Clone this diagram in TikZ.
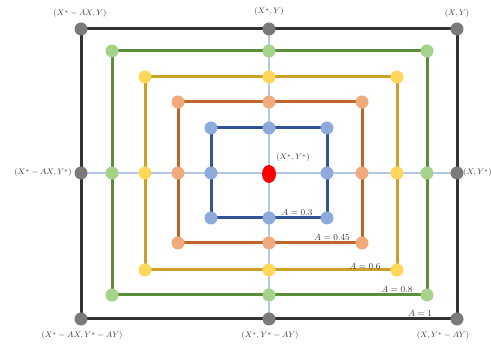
\documentclass[tikz,border=0pt]{standalone}
\usetikzlibrary{backgrounds,shapes.geometric}
\definecolor{lk}{HTML}{333333}\definecolor{fk}{HTML}{7A7A7A}
\definecolor{lg}{HTML}{5B8F3A}\definecolor{fg}{HTML}{A5D38C}
\definecolor{ly}{HTML}{C9A227}\definecolor{fy}{HTML}{FFD85A}
\definecolor{lo}{HTML}{C0652A}\definecolor{fo}{HTML}{F2A97C}
\definecolor{lb}{HTML}{2F5597}\definecolor{fb}{HTML}{8EAADB}
\definecolor{cross}{HTML}{B4C7E7}
\begin{document}
\begin{tikzpicture}[x=1pt,y=-1pt,
  dot/.style={circle,inner sep=0pt,minimum size=13pt},
  lbl/.style={font=\fontsize{8.5}{10}\selectfont,text=black!80,inner sep=1pt},
  alab/.style={lbl,font=\fontsize{9.5}{11}\selectfont},
  frame/.style={line width=3pt},
  crossline/.style={cross,line width=1.5pt}]
\useasboundingbox (0,0) rectangle (491,347);
\foreach \n/\l/\r/\t/\b/\fc in {K/81/457/29/319/fk, G/112/427/51/295/fg, Y/145/397/77/270/fy, O/178/362/102/243/fo, B/211/327/128/218/fb}{
  \node[dot,fill=\fc] (\n-tl) at (\l,\t) {};
  \node[dot,fill=\fc] (\n-tm) at (269,\t) {};
  \node[dot,fill=\fc] (\n-tr) at (\r,\t) {};
  \node[dot,fill=\fc] (\n-rm) at (\r,173) {};
  \node[dot,fill=\fc] (\n-br) at (\r,\b) {};
  \node[dot,fill=\fc] (\n-bm) at (269,\b) {};
  \node[dot,fill=\fc] (\n-bl) at (\l,\b) {};
  \node[dot,fill=\fc] (\n-lm) at (\l,173) {};
}
\node[ellipse,fill=red,inner sep=0pt,minimum width=14pt,minimum height=18pt] (C) at (269,174) {};
\begin{scope}[on background layer]
  \draw[crossline] (K-lm.center) -- (K-rm.center);
  \draw[crossline] (K-tm.center) -- (K-bm.center);
  \foreach \n/\lc in {K/lk, G/lg, Y/ly, O/lo, B/lb}{
    \draw[frame,\lc] (\n-tl.center) -- (\n-tm.center) -- (\n-tr.center) -- (\n-rm.center) -- (\n-br.center) -- (\n-bm.center) -- (\n-bl.center) -- (\n-lm.center) -- cycle;
  }
\end{scope}
\node[lbl] (t1) at (80,14) {$(X^*-AX,Y)$};
\node[lbl] (t2) at (269,12) {$(X^*,Y)$};
\node[lbl] (t3) at (457,14) {$(X,Y)$};
\node[lbl,anchor=east] (t4) at (73,173) {$(X^*-AX,Y^*)$};
\node[lbl,anchor=west,inner sep=0pt,font=\fontsize{8}{10}\selectfont] (t5) at (463,173) {$(X,Y^*)$};
\node[lbl] (t6) at (82,336) {$(X^*-AX,Y^*-AY)$};
\node[lbl] (t7) at (270,336) {$(X^*,Y^*-AY)$};
\node[lbl] (t8) at (443,336) {$(X,Y^*-AY)$};
\node[lbl] (t9) at (293,158) {$(X^*,Y^*)$};
\node[alab] (a1) at (297,212) {$A=0.3$};
\node[alab] (a2) at (332,237) {$A=0.45$};
\node[alab] (a3) at (365,266) {$A=0.6$};
\node[alab] (a4) at (397,289) {$A=0.8$};
\node[alab] (a5) at (420,313) {$A=1$};
\end{tikzpicture}
\end{document}
